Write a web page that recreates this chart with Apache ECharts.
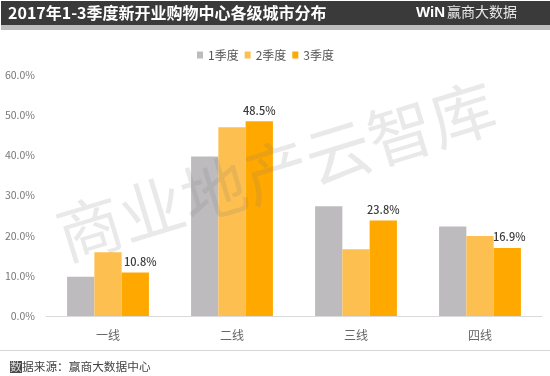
<!DOCTYPE html>
<html lang="zh">
<head>
<meta charset="UTF-8">
<title>2017年1-3季度新开业购物中心各级城市分布</title>
<script src="https://cdn.jsdelivr.net/npm/echarts@6/dist/echarts.min.js"></script>
<style>
html,body{margin:0;padding:0;background:#fff}
#main{width:550px;height:376px}
</style>
</head>
<body>
<div id="main"></div>
<script>
var cjk = '"Noto Sans CJK SC","Open Sans",sans-serif';

// 数据
var categories = ['一线', '二线', '三线', '四线'];
var seriesNames = ['1季度', '2季度', '3季度'];
var q1 = [9.8, 39.7, 27.3, 22.3];
var q2 = [15.9, 47.0, 16.6, 19.9];
var q3 = [10.8, 48.5, 23.8, 16.9];
var colors = ['#bdbbbe', '#fdbf4f', '#ffa800'];

var titleText = '2017年1-3季度新开业购物中心各级城市分布';
var logoText = '赢商大数据';
var watermark = '商业地产云智库';
var sourceText = '据来源：赢商大数据中心';

var myChart = echarts.init(document.getElementById('main'));

var option = {
  animation: false,
  backgroundColor: '#fff',
  color: colors,
  textStyle: {fontFamily: cjk},
  legend: {
    top: 44,
    left: 192,
    itemWidth: 6,
    itemHeight: 7,
    itemGap: 6,
    icon: 'rect',
    data: seriesNames,
    textStyle: {fontSize: 12, color: '#555'}
  },
  grid: {left: 46, right: 8, top: 75, bottom: 60},
  xAxis: {
    type: 'category',
    data: categories,
    axisLine: {lineStyle: {color: '#d9d9d9'}},
    axisTick: {show: false},
    axisLabel: {fontSize: 12, color: '#666', margin: 13}
  },
  yAxis: {
    type: 'value',
    min: 0,
    max: 60,
    interval: 10,
    axisLine: {show: false},
    axisTick: {show: false},
    splitLine: {show: false},
    axisLabel: {
      fontSize: 10.5,
      color: '#777',
      margin: 11,
      formatter: function (v) { return v.toFixed(1) + '%'; }
    }
  },
  series: [
    {name: seriesNames[0], type: 'bar', data: q1, barGap: 0, barCategoryGap: '34%', z: 2},
    {name: seriesNames[1], type: 'bar', data: q2, z: 2},
    {
      name: seriesNames[2],
      type: 'bar',
      data: q3,
      z: 2,
      label: {
        show: true,
        position: 'top',
        distance: 5,
        fontSize: 11,
        fontWeight: 500,
        color: '#3a3a3a',
        formatter: function (p) { return p.value.toFixed(1) + '%'; }
      },
      // 一线、四线的标签略向右
      labelLayout: function (p) {
        if (p.dataIndex === 0) return {dx: 5};
        if (p.dataIndex === 3) return {dx: 2, dy: -1};
        return {};
      }
    }
  ],
  graphic: [
    // 顶部标题条
    {type: 'rect', z: 10, shape: {x: 1, y: 1, width: 549, height: 24}, style: {fill: '#3b3a3a'}},
    {type: 'rect', z: 10, shape: {x: 1, y: 25, width: 549, height: 5}, style: {fill: '#bdbdbd'}},
    {type: 'text', z: 11, x: 8, y: 5, style: {text: titleText, fill: '#fff', font: 'bold 16px ' + cjk}},
    {type: 'text', z: 11, x: 416, y: 5, style: {text: 'WiN', fill: '#fff', font: 'bold 15px "Liberation Sans",sans-serif'}},
    {type: 'text', z: 11, x: 447, y: 5, style: {text: logoText, fill: '#e8e8e8', font: '14px ' + cjk}},
    // 水印
    {
      type: 'text',
      z: 20,
      silent: true,
      x: 276,
      y: 171,
      rotation: 17 * Math.PI / 180,
      style: {
        text: watermark,
        fill: 'rgba(120,120,120,0.16)',
        font: '65px ' + cjk,
        align: 'center',
        verticalAlign: 'middle'
      }
    },
    // 底部来源
    {type: 'rect', z: 10, shape: {x: 0, y: 350, width: 550, height: 1}, style: {fill: '#d6d6d6'}},
    {type: 'rect', z: 10, shape: {x: 10, y: 361, width: 12, height: 12}, style: {fill: '#4a4a4a'}},
    {type: 'text', z: 11, x: 10, y: 361, style: {text: '数', fill: '#ddd', font: '11.7px ' + cjk}},
    {type: 'text', z: 11, x: 22, y: 361, style: {text: sourceText, fill: '#444', font: '11.7px ' + cjk}}
  ]
};
myChart.setOption(option);
</script>
</body>
</html>
